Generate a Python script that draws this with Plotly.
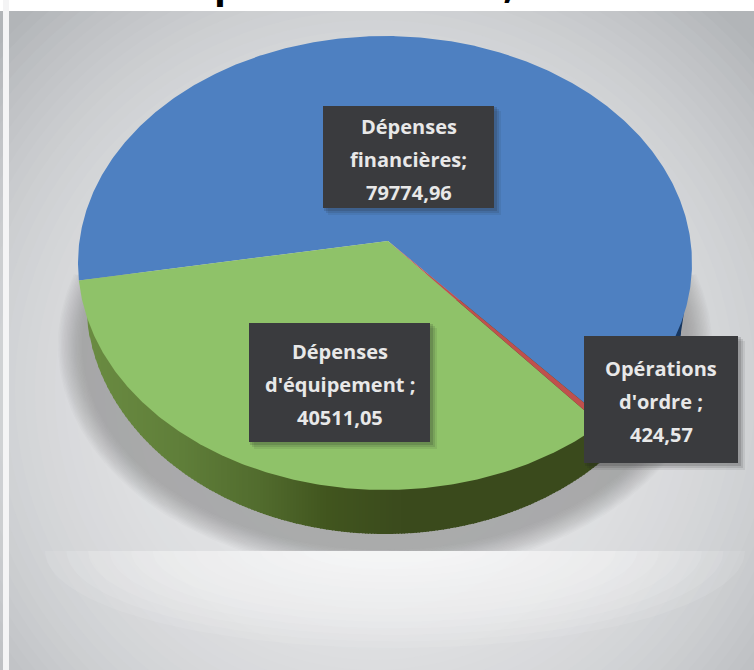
import numpy as np
import plotly.graph_objects as go

names = ["Dépenses d'équipement", "Opérations d'ordre", "Dépenses financières"]
values = [40511.05, 424.57, 79774.96]
label_lines = [
    ["Dépenses", "d'équipement ;", "40511,05"],
    ["Opérations", "d'ordre ;", "424,57"],
    ["Dépenses", "financières;", "79774,96"],
]
title_text = "Dépenses 120 710,58 €"
top_colors = ["#8fc269", "#c0504d", "#4e80c1"]
wall_stops = {
    "green": [(85, "#6b8c42"), (180, "#607f3a"), (260, "#526c2e"), (325, "#42561f"), (400, "#3b4b1d"), (600, "#3a4a1c")],
    "red": [(0, "#4a1a14"), (1000, "#4a1a14")],
    "blue": [(0, "#17365f"), (1000, "#17365f")],
}

W, H = 754, 670
CX, CY, RX, RY = 385, 263, 307, 227
AX, AY = 388, 241
K = RY / RX
START = 189.8
BCX, BCY, BRX, BRY = 385, 300, 299, 234


def rim(theta_deg):
    t = np.radians(theta_deg)
    dx, dy = np.cos(t), -K * np.sin(t)
    ex, ey = AX - CX, AY - CY
    a = (dx / RX) ** 2 + (dy / RY) ** 2
    b = 2 * (ex * dx / RX**2 + ey * dy / RY**2)
    c = (ex / RX) ** 2 + (ey / RY) ** 2 - 1
    s = (-b + np.sqrt(b * b - 4 * a * c)) / (2 * a)
    return AX + s * dx, AY + s * dy


def mix(stops, x):
    xs = [s[0] for s in stops]
    cs = [[int(s[1][i:i + 2], 16) for i in (1, 3, 5)] for s in stops]
    return "rgb(%d,%d,%d)" % tuple(np.interp(x, xs, [c[i] for c in cs]) for i in range(3))


fig = go.Figure()
skip = dict(mode="lines", line=dict(width=0), fill="toself", hoverinfo="skip", showlegend=False)

# cast shadow under the pie, tapered at its top and cut flat at its lower edge
SHADOW_STEPS = 18
for i in range(SHADOW_STEPS):
    f = 1 - i / (SHADOW_STEPS - 1)
    sa, sb = 303 + 24 * f, 205 + 24 * f
    t = np.linspace(-40, 220, 260)
    px = 385 + sa * np.cos(np.radians(t))
    py = np.minimum(345 + sb * np.sin(np.radians(t)), 551)
    keep = py >= 272
    fig.add_trace(go.Scatter(x=px[keep], y=py[keep],
                             fillcolor="rgba(135,137,140,0.04)", **skip))

# light glow below the shadow's edge
for i in range(14):
    f = 1 - i / 13
    t = np.linspace(0, 180, 80)
    fig.add_trace(go.Scatter(x=395 + (70 + 280 * f) * np.cos(np.radians(t)),
                             y=551 + (12 + 85 * f) * np.sin(np.radians(t)),
                             fillcolor="rgba(255,255,255,0.09)", **skip))

# angles of the slices
shares = np.array(values) / sum(values) * 360
edges = START + np.concatenate([[0], np.cumsum(shares)])

# side wall, in vertical strips
green_end_x = rim(edges[1])[0]
red_end_x = rim(edges[2])[0]
xs = np.arange(BCX - BRX, BCX + BRX, 3.0)
for x0 in xs:
    xm = x0 + 1.5
    if xm < green_end_x:
        col = mix(wall_stops["green"], xm)
    elif xm < red_end_x:
        col = mix(wall_stops["red"], xm)
    else:
        col = mix(wall_stops["blue"], xm)
    band = np.linspace(x0, min(x0 + 4, BCX + BRX), 5)
    yb = BCY + BRY * np.sqrt(np.clip(1 - ((band - BCX) / BRX) ** 2, 0, 1))
    fig.add_trace(go.Scatter(x=list(band) + [band[-1], band[0]],
                             y=list(yb) + [BCY, BCY], fillcolor=col, **skip))

# top surface
for i in [2, 0, 1]:
    th = np.linspace(edges[i], edges[i + 1], max(3, int(shares[i] * 2)))
    pts = [rim(v) for v in th]
    fig.add_trace(go.Scatter(x=[AX] + [p[0] for p in pts] + [AX],
                             y=[AY] + [p[1] for p in pts] + [AY],
                             fillcolor=top_colors[i], name=names[i], text=names[i],
                             mode="lines", line=dict(width=0), fill="toself",
                             hoverinfo="text", showlegend=False))

shapes = []
# background: radial grey gradient
DARK, BRIGHT = np.array([0xb2, 0xb5, 0xb8]), np.array([0xe4, 0xe5, 0xe7])
shapes.append(dict(type="rect", x0=0, x1=W, y0=0, y1=H, fillcolor="#b2b5b8", line_width=0, layer="below"))
for r in np.arange(520, 100, -10.0):
    v = BRIGHT + (DARK - BRIGHT) * (r / 520) ** 3
    shapes.append(dict(type="circle", x0=375 - r, x1=375 + r, y0=390 - r, y1=390 + r,
                       fillcolor="rgb(%d,%d,%d)" % tuple(v), line_width=0, layer="below"))
# page margins
shapes.append(dict(type="rect", x0=0, x1=W, y0=0, y1=11, fillcolor="#ffffff", line_width=0, layer="below"))
shapes.append(dict(type="rect", x0=3, x1=9, y0=0, y1=H, fillcolor="#f4f4f5", line_width=0, layer="below"))

# label boxes
boxes = [(249, 430, 323, 442), (584, 738, 336, 463), (323, 494, 106, 208)]
annotations = []
for box, lines in zip(boxes, label_lines):
    x0, x1, y0, y1 = box
    for d, op in [(7, 0.08), (5, 0.12), (3, 0.16)]:
        shapes.append(dict(type="rect", x0=x0 + d - 2, x1=x1 + d, y0=y0 + d - 2, y1=y1 + d,
                           fillcolor="rgba(30,30,30,%.2f)" % op, line_width=0, layer="above"))
    shapes.append(dict(type="rect", x0=x0, x1=x1, y0=y0, y1=y1,
                       fillcolor="#3a3b3e", line_width=0, layer="above"))
    yc = (y0 + y1) / 2 + 2
    for j, line in enumerate(lines):
        annotations.append(dict(x=(x0 + x1) / 2, y=yc + (j - 1) * 33, text="<b>%s</b>" % line,
                                xref="x", yref="y", showarrow=False,
                                font=dict(family="Open Sans", size=20, color="#e8e8e8")))

annotations.append(dict(x=376, y=11, text="<b>%s</b>" % title_text, xref="x", yref="y",
                        yanchor="bottom", showarrow=False,
                        font=dict(family="Open Sans", size=39, color="#000000")))

fig.update_layout(
    width=W, height=H, autosize=False,
    margin=dict(l=0, r=0, t=0, b=0),
    paper_bgcolor="#ffffff", plot_bgcolor="#ffffff",
    xaxis=dict(range=[0, W], visible=False, fixedrange=True),
    yaxis=dict(range=[H, 0], visible=False, fixedrange=True),
    shapes=shapes, annotations=annotations, showlegend=False,
)
fig.write_html("out.html", post_script="document.body.style.margin='0';",
               config=dict(displayModeBar=False))
